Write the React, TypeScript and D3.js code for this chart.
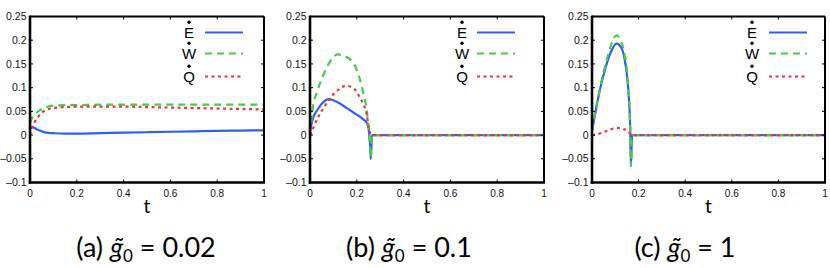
import * as d3 from 'd3';

// t grids (one per panel) and the three series
const tA = [0, 0.005, 0.01, 0.02, 0.03, 0.05, 0.07, 0.1, 0.15, 0.2, 0.3, 0.4, 0.5, 0.6, 0.7, 0.8, 0.9, 1];
const eA = [0.012, 0.016, 0.017, 0.015, 0.012, 0.008, 0.005, 0.004, 0.003, 0.003, 0.004, 0.005, 0.006, 0.007, 0.008, 0.009, 0.0095, 0.01];
const wA = [0.025, 0.032, 0.037, 0.043, 0.048, 0.055, 0.059, 0.062, 0.063, 0.063, 0.064, 0.064, 0.064, 0.064, 0.064, 0.064, 0.064, 0.064];
const qA = [0, 0.01, 0.017, 0.027, 0.035, 0.047, 0.053, 0.057, 0.059, 0.06, 0.06, 0.06, 0.059, 0.058, 0.057, 0.056, 0.055, 0.054];

const tB = [0, 0.011, 0.033, 0.054, 0.08, 0.118, 0.154, 0.19, 0.21, 0.228, 0.242, 0.25, 0.256, 0.26, 0.265, 0.5, 1];
const eB = [0.008, 0.033, 0.054, 0.068, 0.076, 0.069, 0.058, 0.046, 0.04, 0.033, 0.026, 0.015, -0.016, -0.05, 0, 0, 0];
const wB = [0, 0.054, 0.095, 0.123, 0.15, 0.17, 0.165, 0.148, 0.123, 0.088, 0.054, 0.015, -0.016, -0.047, 0, 0, 0];
const qB = [0, 0.012, 0.036, 0.054, 0.074, 0.094, 0.104, 0.097, 0.082, 0.065, 0.045, 0.019, 0.006, 0.001, 0, 0, 0];

const tC = [0, 0.02, 0.036, 0.06, 0.08, 0.105, 0.125, 0.14, 0.15, 0.158, 0.164, 0.167, 0.172, 0.5, 1];
const eC = [0.008, 0.062, 0.1, 0.145, 0.174, 0.193, 0.185, 0.16, 0.126, 0.08, 0.014, -0.065, 0, 0, 0];
const wC = [0.008, 0.064, 0.104, 0.152, 0.187, 0.21, 0.197, 0.17, 0.135, 0.085, 0.015, -0.065, 0, 0, 0];
const qC = [0, 0.001, 0.004, 0.008, 0.012, 0.015, 0.014, 0.012, 0.01, 0.006, 0.003, 0.001, 0, 0, 0];

const yTicks = [-0.1, -0.05, 0, 0.05, 0.1, 0.15, 0.2, 0.25];
const xTicks = [0, 0.2, 0.4, 0.6, 0.8, 1];
const seriesNames = ['E', 'W', 'Q'];
const captionLetters = ['a', 'b', 'c'];
const captionValues = ['0.02', '0.1', '1'];

const colors = ['#2f5ff2', '#4cc84c', '#f23333'];
const dashes = ['none', '7 5', '3 3.5'];

const panels = [
  { t: tA, ys: [eA, wA, qA], x0: 30, x1: 264, legX: 159, legL: 175, legR: 213, capX: 146 },
  { t: tB, ys: [eB, wB, qB], x0: 310, x1: 544, legX: 152, legL: 167, legR: 205, capX: 409 },
  { t: tC, ys: [eC, wC, qC], x0: 592, x1: 825, legX: 160, legL: 177, legR: 215, capX: 685 },
];

const TOP = 16.5;
const BOTTOM = 182.5;
const legRows = [32.5, 53.5, 76.5];

const Panel = ({ p, i }: { p: any; i: number }) => {
  const x = d3.scaleLinear().domain([0, 1]).range([p.x0, p.x1]);
  const y = d3.scaleLinear().domain([-0.1, 0.25]).range([BOTTOM, TOP]);
  const line = d3
    .line<number>()
    .x((d, k) => x(p.t[k]))
    .y((d) => y(d))
    .curve(d3.curveMonotoneX);
  const fmt = (v: number) => (v < 0 ? '\u2013' + String(-v) : String(v));
  return (
    <g>
      <defs>
        <clipPath id={'clip' + i}>
          <rect x={p.x0} y={TOP} width={p.x1 - p.x0} height={BOTTOM - TOP} />
        </clipPath>
      </defs>
      <g clipPath={`url(#clip${i})`}>
        {p.ys.map((vals: number[], s: number) => (
          <path key={s} d={line(vals) || ''} fill="none" stroke={colors[s]} strokeWidth={2.2}
            strokeDasharray={dashes[s]} />
        ))}
      </g>
      {/* frame */}
      <line x1={p.x0} x2={p.x1} y1={TOP} y2={TOP} stroke="#000" strokeWidth={1.8} />
      <line x1={p.x1} x2={p.x1} y1={TOP} y2={BOTTOM} stroke="#000" strokeWidth={2} />
      <line x1={p.x0} x2={p.x0} y1={TOP - 0.9} y2={BOTTOM + 1.2} stroke="#000" strokeWidth={2.6} />
      <line x1={p.x0 - 1.3} x2={p.x1 + 1} y1={BOTTOM} y2={BOTTOM} stroke="#000" strokeWidth={2.6} />
      {yTicks.map((v) => (
        <g key={'y' + v}>
          <line x1={p.x0} x2={p.x0 + 3} y1={y(v)} y2={y(v)} stroke="#000" strokeWidth={1} />
          <line x1={p.x1 - 3} x2={p.x1} y1={y(v)} y2={y(v)} stroke="#000" strokeWidth={1} />
          <text x={p.x0 - 3.5} y={y(v)} dy="0.35em" textAnchor="end" fontSize={10.5}
            fontFamily="Liberation Sans, Arial, sans-serif" fill="#111">{fmt(v)}</text>
        </g>
      ))}
      {xTicks.map((v) => (
        <g key={'x' + v}>
          <line x1={x(v)} x2={x(v)} y1={BOTTOM} y2={BOTTOM - 3} stroke="#000" strokeWidth={1} />
          <line x1={x(v)} x2={x(v)} y1={TOP} y2={TOP + 3} stroke="#000" strokeWidth={1} />
          <text x={x(v)} y={BOTTOM + 10.5} dy="0.35em" textAnchor="middle" fontSize={10}
            fontFamily="Liberation Sans, Arial, sans-serif" fill="#111">{String(v)}</text>
        </g>
      ))}
      {/* legend */}
      {seriesNames.map((n, s) => (
        <g key={n}>
          <text x={p.x0 + p.legX} y={legRows[s] + 5.5} textAnchor="middle" fontSize={15}
            fontFamily="Liberation Sans, Arial, sans-serif" fill="#000">{n}</text>
          <circle cx={p.x0 + p.legX} cy={legRows[s] - 10.3} r={1.7} fill="#000" />
          <line x1={p.x0 + p.legL} x2={p.x0 + p.legR} y1={legRows[s]} y2={legRows[s]}
            stroke={colors[s]} strokeWidth={2.2} strokeDasharray={dashes[s]} />
        </g>
      ))}
      <text x={(p.x0 + p.x1) / 2} y={213} textAnchor="middle" fontSize={19}
        fontFamily="Lato, Open Sans, sans-serif" fill="#000">t</text>
      <text x={p.capX} y={257} textAnchor="middle" fontSize={27}
        fontFamily="Lato, Open Sans, sans-serif" fill="#000">
        {`(${captionLetters[i]}) `}
        <tspan fontStyle="italic">{'g\u0303'}</tspan>
        <tspan fontSize={17} dy={5}>0</tspan>
        <tspan dy={-5}>{` = ${captionValues[i]}`}</tspan>
      </text>
    </g>
  );
};

export default function App() {
  return (
    <svg width={830} height={268} style={{ position: 'absolute', left: 0, top: 0, background: '#fff' }}>
      <rect width={830} height={268} fill="#fff" />
      {panels.map((p, i) => (
        <Panel key={i} p={p} i={i} />
      ))}
    </svg>
  );
}
